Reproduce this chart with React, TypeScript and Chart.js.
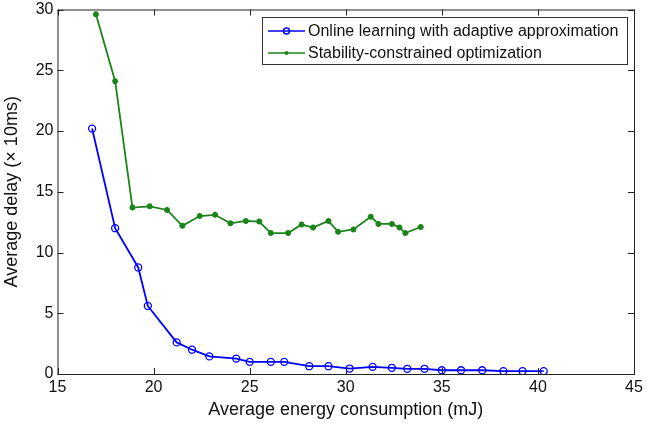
import React, { useEffect, useRef } from "react";
import { Chart, registerables } from "chart.js";

Chart.register(...registerables);

// Online learning with adaptive approximation
const energyOnline = [16.8, 18.0, 19.2, 19.7, 21.2, 22.0, 22.9, 24.3, 25.0, 26.1, 26.8, 28.1, 29.1, 30.2, 31.4, 32.4, 33.2, 34.1, 35.0, 36.0, 37.1, 38.2, 39.2, 40.3];
const delayOnline = [20.2, 12.0, 8.77, 5.6, 2.6, 2.0, 1.45, 1.27, 1.0, 1.0, 1.0, 0.64, 0.64, 0.45, 0.59, 0.51, 0.43, 0.43, 0.31, 0.31, 0.31, 0.23, 0.23, 0.23];

// Stability-constrained optimization
const energyStable = [17.0, 18.0, 18.9, 19.8, 20.7, 21.5, 22.4, 23.2, 24.0, 24.8, 25.5, 26.1, 27.0, 27.7, 28.3, 29.1, 29.6, 30.4, 31.3, 31.7, 32.4, 32.8, 33.1, 33.9];
const delayStable = [29.6, 24.1, 13.7, 13.8, 13.5, 12.2, 13.0, 13.1, 12.4, 12.6, 12.55, 11.6, 11.6, 12.3, 12.05, 12.6, 11.7, 11.9, 12.95, 12.35, 12.35, 12.05, 11.6, 12.1];

const xTicks = [15, 20, 25, 30, 35, 40, 45];
const yTicks = [0, 5, 10, 15, 20, 25, 30];

const seriesNames = ["Online learning with adaptive approximation", "Stability-constrained optimization"];
const blue = "#0000ff";
const green = "#1a841a";
const fontFamily = "'Liberation Sans', Arial, sans-serif";

const framePlugin = {
  id: "frame",
  afterDatasetsDraw(chart: any) {
    const { ctx, chartArea: a, scales } = chart;
    ctx.save();
    ctx.strokeStyle = "#222";
    ctx.lineWidth = 1;
    ctx.strokeRect(a.left + 0.5, a.top + 0.5, a.right - a.left, a.bottom - a.top);
    const t = 6;
    ctx.beginPath();
    xTicks.forEach((v) => {
      const px = Math.round(scales.x.getPixelForValue(v)) + 0.5;
      ctx.moveTo(px, a.bottom);
      ctx.lineTo(px, a.bottom - t);
      ctx.moveTo(px, a.top);
      ctx.lineTo(px, a.top + t);
    });
    yTicks.forEach((v) => {
      const py = Math.round(scales.y.getPixelForValue(v)) + 0.5;
      ctx.moveTo(a.left, py);
      ctx.lineTo(a.left + t, py);
      ctx.moveTo(a.right, py);
      ctx.lineTo(a.right - t, py);
    });
    ctx.stroke();

    // legend box
    const lx = 262, ly = 17, lw = 365, lh = 47;
    ctx.fillStyle = "#fff";
    ctx.fillRect(lx, ly, lw, lh);
    ctx.strokeStyle = "#333";
    ctx.strokeRect(lx + 0.5, ly + 0.5, lw, lh);
    const rows = [
      { name: seriesNames[0], color: blue, y: 31, style: "circle" },
      { name: seriesNames[1], color: green, y: 53, style: "star" },
    ];
    rows.forEach((r) => {
      ctx.strokeStyle = r.color;
      ctx.lineWidth = 1.5;
      ctx.beginPath();
      ctx.moveTo(268, r.y);
      ctx.lineTo(305, r.y);
      ctx.stroke();
      if (r.style === "circle") {
        ctx.beginPath();
        ctx.arc(286.5, r.y, 3, 0, Math.PI * 2);
        ctx.stroke();
      } else {
        ctx.beginPath();
        ctx.arc(286.5, r.y, 2, 0, Math.PI * 2);
        ctx.fillStyle = r.color;
        ctx.fill();
      }
      ctx.fillStyle = "#111";
      ctx.font = `16px ${fontFamily}`;
      ctx.textBaseline = "middle";
      ctx.textAlign = "left";
      ctx.fillText(r.name, 308, r.y + 1);
    });
    ctx.restore();
  },
};

export default function App() {
  const canvasRef = useRef<HTMLCanvasElement | null>(null);

  useEffect(() => {
    const canvas = canvasRef.current;
    if (!canvas) return;
    const chart = new Chart(canvas, {
      type: "scatter",
      data: {
        datasets: [
          {
            label: seriesNames[0],
            data: energyOnline.map((x, i) => ({ x, y: delayOnline[i] })),
            showLine: true,
            borderColor: blue,
            borderWidth: 1.8,
            pointStyle: "circle",
            pointRadius: 3.5,
            pointBorderWidth: 1.3,
            pointBackgroundColor: "rgba(0,0,0,0)",
            pointBorderColor: blue,
          },
          {
            label: seriesNames[1],
            data: energyStable.map((x, i) => ({ x, y: delayStable[i] })),
            showLine: true,
            borderColor: green,
            borderWidth: 1.8,
            pointStyle: "star",
            pointRadius: 3,
            pointBorderWidth: 1.8,
            pointBackgroundColor: green,
            pointBorderColor: green,
          },
        ],
      },
      options: {
        animation: false,
        responsive: false,
        maintainAspectRatio: false,
        layout: { padding: { top: 9.5, right: 13, left: 0, bottom: 0 } },
        plugins: { legend: { display: false }, tooltip: { enabled: false } },
        scales: {
          x: {
            type: "linear",
            min: 15,
            max: 45,
            afterFit: (s: any) => { s.height = 49; s.paddingLeft = 0; s.paddingRight = 0; },
            afterBuildTicks: (s: any) => { s.ticks = xTicks.map((v) => ({ value: v })); },
            grid: { display: false, drawTicks: false },
            border: { display: false },
            ticks: { padding: 3.5, color: "#111", font: { family: fontFamily, size: 16 } },
            title: {
              display: true,
              text: "Average energy consumption (mJ)",
              color: "#111",
              font: { family: fontFamily, size: 18 },
              padding: { top: 0, bottom: 2.2 },
            },
          },
          y: {
            type: "linear",
            min: 0,
            max: 30,
            afterFit: (s: any) => { s.width = 57.5; s.paddingTop = 0; s.paddingBottom = 0; },
            afterBuildTicks: (s: any) => { s.ticks = yTicks.map((v) => ({ value: v })); },
            grid: { display: false, drawTicks: false },
            border: { display: false },
            ticks: { padding: 4, color: "#111", font: { family: fontFamily, size: 16 } },
            title: {
              display: true,
              text: "Average delay (\u00d7 10ms)",
              color: "#111",
              font: { family: fontFamily, size: 18 },
              padding: { top: 1.2, bottom: 0 },
            },
          },
        },
      },
      plugins: [framePlugin],
    });
    return () => chart.destroy();
  }, []);

  return (
    <div style={{ position: "fixed", left: 0, top: 0, width: 647, height: 423, background: "#fff" }}>
      <canvas ref={canvasRef} width={647} height={423} style={{ display: "block" }} />
    </div>
  );
}
